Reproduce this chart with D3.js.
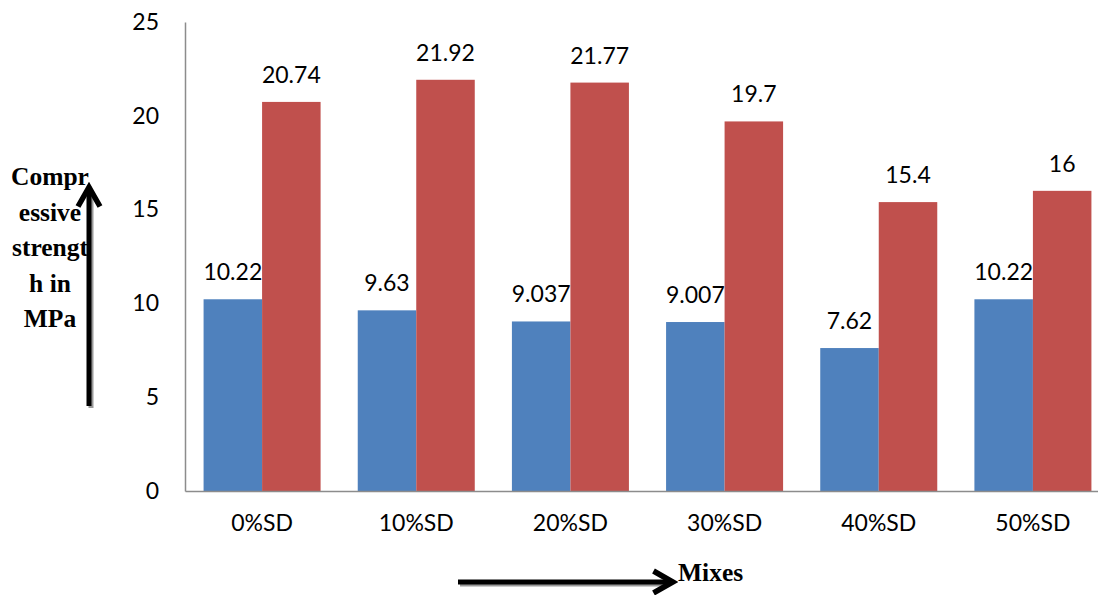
<!DOCTYPE html>
<html>
<head>
<meta charset="utf-8">
<script src="https://cdn.jsdelivr.net/npm/d3@7"></script>
<style>
  html, body { margin: 0; padding: 0; background: #fff; }
  svg { display: block; }
</style>
</head>
<body>
<svg id="chart" width="1098" height="595"></svg>
<script>
// Compressive strength (MPa) for each mix
const mixes = ["0%SD", "10%SD", "20%SD", "30%SD", "40%SD", "50%SD"];
const seriesA = [10.22, 9.63, 9.037, 9.007, 7.62, 10.22];
const seriesB = [20.74, 21.92, 21.77, 19.7, 15.4, 16];
const labelsA = ["10.22", "9.63", "9.037", "9.007", "7.62", "10.22"];
const labelsB = ["20.74", "21.92", "21.77", "19.7", "15.4", "16"];
const yTicks = [0, 5, 10, 15, 20, 25];

const colors = ["#4F81BD", "#C0504D"];
const sansFont = "Lato, 'Open Sans', sans-serif";
const serifFont = "'Liberation Serif', 'Times New Roman', serif";
const svg = d3.select("#chart");

const plotLeft = 185, plotTop = 22, plotBottom = 491, plotW = 925;

const x = d3.scaleBand().domain(mixes).range([plotLeft, plotLeft + plotW]).paddingInner(0.241).paddingOuter(0.1205);
const inner = d3.scaleBand().domain([0, 1]).range([0, x.bandwidth()]);
const y = d3.scaleLinear().domain([0, 25]).range([plotBottom, plotTop]);

const rows = mixes.map((m, i) => ({ mix: m, vals: [seriesA[i], seriesB[i]], labels: [labelsA[i], labelsB[i]] }));

const groups = svg.append("g").selectAll("g").data(rows).join("g")
  .attr("transform", d => `translate(${x(d.mix)},0)`);

groups.selectAll("rect").data(d => d.vals.map((v, k) => ({ v, k }))).join("rect")
  .attr("x", d => inner(d.k))
  .attr("width", inner.bandwidth())
  .attr("y", d => y(d.v))
  .attr("height", d => y(0) - y(d.v))
  .attr("fill", d => colors[d.k]);

groups.selectAll("text").data(d => d.vals.map((v, k) => ({ v, k, t: d.labels[k] }))).join("text")
  .attr("x", d => inner(d.k) + inner.bandwidth() / 2)
  .attr("y", d => y(d.v) - 19)
  .attr("text-anchor", "middle")
  .attr("font-family", sansFont)
  .attr("font-size", 23)
  .attr("fill", "#000")
  .text(d => d.t);

// Axes
const yAxis = d3.axisLeft(y).tickValues(yTicks).tickSize(0).tickPadding(26);
const gy = svg.append("g").attr("transform", `translate(${plotLeft},0)`).call(yAxis);
gy.select(".domain").attr("stroke", "#8c8c8c").attr("stroke-width", 1.5);
gy.selectAll("text").attr("font-family", sansFont).attr("font-size", 23).attr("fill", "#000");

const xAxis = d3.axisBottom(x).tickSize(0).tickPadding(24);
const gx = svg.append("g").attr("transform", `translate(0,${plotBottom})`).call(xAxis);
gx.select(".domain").attr("stroke", "#8c8c8c").attr("stroke-width", 1.5);
gx.selectAll("text").attr("font-family", sansFont).attr("font-size", 23).attr("fill", "#000");

// Arrow markers
const defs = svg.append("defs");
defs.append("marker").attr("id", "head").attr("viewBox", "0 0 10 10")
  .attr("refX", 7).attr("refY", 5).attr("markerWidth", 5.5).attr("markerHeight", 5.5)
  .attr("markerUnits", "strokeWidth").attr("orient", "auto")
  .append("path").attr("d", "M1,1 L8,5 L1,9").attr("fill", "none").attr("stroke", "#000").attr("stroke-width", 2);

// Y-axis title with arrow
svg.append("line").attr("x1", 91).attr("y1", 408).attr("x2", 91).attr("y2", 194)
  .attr("stroke", "#999").attr("stroke-width", 5);
svg.append("line").attr("x1", 89).attr("y1", 406).attr("x2", 89).attr("y2", 190)
  .attr("stroke", "#000").attr("stroke-width", 5).attr("marker-end", "url(#head)");

const yTitle = ["Compr", "essive", "strengt", "h in", "MPa"];
svg.append("g").selectAll("text").data(yTitle).join("text")
  .attr("x", 50).attr("y", (d, i) => 185 + i * 35.5)
  .attr("text-anchor", "middle")
  .attr("font-family", serifFont)
  .attr("font-weight", "bold").attr("font-size", 25.5).attr("fill", "#000")
  .text(d => d);

// X-axis title with arrow
svg.append("line").attr("x1", 460).attr("y1", 584).attr("x2", 668).attr("y2", 584)
  .attr("stroke", "#999").attr("stroke-width", 5);
svg.append("line").attr("x1", 458).attr("y1", 582).attr("x2", 670).attr("y2", 582)
  .attr("stroke", "#000").attr("stroke-width", 5).attr("marker-end", "url(#head)");
svg.append("text").attr("x", 678).attr("y", 581)
  .attr("font-family", serifFont)
  .attr("font-weight", "bold").attr("font-size", 25.5).attr("fill", "#000")
  .text("Mixes");
</script>
</body>
</html>
